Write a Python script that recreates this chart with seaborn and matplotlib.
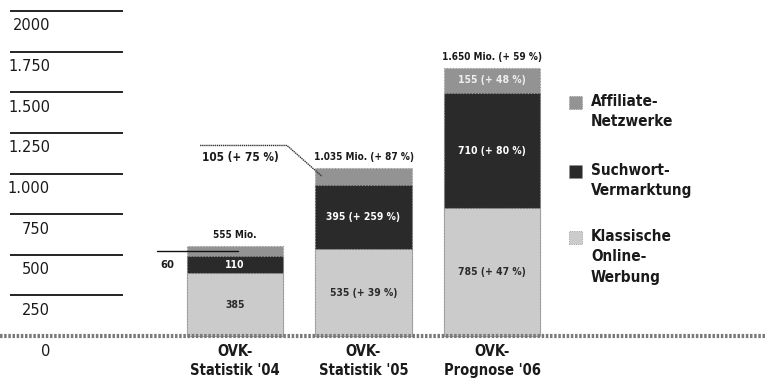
import matplotlib
matplotlib.use("Agg")
import matplotlib.pyplot as plt
from matplotlib.patches import Rectangle
import seaborn as sns
import pandas as pd

# --- data -------------------------------------------------------------
categories = ["OVK-\nStatistik '04", "OVK-\nStatistik '05", "OVK-\nPrognose '06"]
klassische = [385, 535, 785]
suchwort = [110, 395, 710]
affiliate = [60, 105, 155]
total_labels = ["555 Mio.", "1.035 Mio. (+ 87 %)", "1.650 Mio. (+ 59 %)"]
klassische_labels = ["385", "535 (+ 39 %)", "785 (+ 47 %)"]
suchwort_labels = ["110", "395 (+ 259 %)", "710 (+ 80 %)"]
affiliate_labels = ["60", "105 (+ 75 %)", "155 (+ 48 %)"]
y_ticks = [0, 250, 500, 750, 1000, 1250, 1500, 1750, 2000]
y_tick_labels = ["0", "250", "500", "750", "1.000", "1.250", "1.500", "1.750", "2000"]
series_names = ["Affiliate-\nNetzwerke", "Suchwort-\nVermarktung", "Klassische\nOnline-\nWerbung"]

# --- styling ----------------------------------------------------------
sns.set_style("white")
plt.rcParams["font.family"] = ["DejaVu Sans"]
C_AFF = "#939393"
C_SUCH = "#2a2a2a"
C_KLASS = "#cbcbcb"
TXT = "#1a1a1a"

W, H = 766, 383
fig = plt.figure(figsize=(W / 100, H / 100), dpi=100)
ax = fig.add_axes([0, 0, 1, 1])

# cumulative heights for the stacked columns
df = pd.DataFrame({
    "kategorie": categories,
    "klassisch": klassische,
    "such": suchwort,
    "aff": affiliate,
})
df["top_such"] = df["klassisch"] + df["such"]
df["total"] = df["top_such"] + df["aff"]

bar_kw = dict(width=0.75, saturation=1, errorbar=None, order=categories,
              edgecolor="#9a9a9a", linewidth=0.8, linestyle=":")
sns.barplot(data=df, x="kategorie", y="total", color=C_AFF, ax=ax, **bar_kw)
sns.barplot(data=df, x="kategorie", y="top_such", color=C_SUCH, ax=ax, **bar_kw)
sns.barplot(data=df, x="kategorie", y="klassisch", color=C_KLASS, ax=ax, **bar_kw)

# axis frame: one column spacing = 128.5 px, 250 units = 40.6 px
XC0, XS = 235.0, 128.5
Y0, YS = 336.0, 0.1625


def px_x(px):
    return (px - XC0) / XS


def px_y(py):
    return (Y0 - py) / YS


ax.set_xlim(px_x(0), px_x(W))
ax.set_ylim(px_y(H), px_y(0))
ax.set_xlabel("")
ax.set_ylabel("")
ax.set_xticks([])
ax.set_yticks([])
for s in ax.spines.values():
    s.set_visible(False)

# short value rules on the left with labels beneath them
ax.hlines(y_ticks[1:], px_x(10), px_x(123), color="#111111", lw=1.3)
ax.axhline(0, color="#7a7a7a", lw=3.0, ls=(0, (0.6, 0.4)))
for v, lab in zip(y_ticks, y_tick_labels):
    ax.annotate(lab, xy=(px_x(50), v), xytext=(0, -15), textcoords="offset pixels",
                ha="right", va="center", fontsize=10.5, color=TXT)

# category labels under the baseline
for i, cat in enumerate(categories):
    ax.annotate(cat, xy=(i, 0), xytext=(0, -25), textcoords="offset pixels",
                ha="center", va="center", fontsize=10.5, fontweight="bold",
                fontstretch="condensed", color=TXT, linespacing=1.4)

lab_kw = dict(ha="center", va="center", fontsize=7.5, fontweight="bold",
              fontstretch="condensed")
for i in range(len(categories)):
    k, s, a = klassische[i], suchwort[i], affiliate[i]
    tot = k + s + a
    ax.text(i, k / 2, klassische_labels[i], color="#2a2a2a", **lab_kw)
    ax.text(i, k + s / 2, suchwort_labels[i], color="white", **lab_kw)
    ax.annotate(total_labels[i], xy=(i, tot), xytext=(0, 11), textcoords="offset pixels",
                color=TXT, **{**lab_kw, "fontsize": 7.2})

# affiliate values: inside the tall column, outside with leader lines otherwise
k, s, a = klassische[2], suchwort[2], affiliate[2]
ax.text(2, k + s + a / 2, affiliate_labels[2], color="#eeeeee", **lab_kw)

k, s, a = klassische[0], suchwort[0], affiliate[0]
ax.plot([-0.61, 0.02], [k + s + a / 2] * 2, color="#111111", lw=1.0)
ax.text(-0.58, k + s / 2, affiliate_labels[0], color=TXT,
        **{**lab_kw, "ha": "left", "fontsize": 8})

k, s, a = klassische[1], suchwort[1], affiliate[1]
y_mid = k + s + a / 2
y_lead = y_mid + 190
ax.plot([1 - 1.272, 1 - 0.595, 1 - 0.323], [y_lead, y_lead, y_mid],
        color="#333333", lw=1.0, ls=(0, (1, 0.5)))
ax.text(1 - 0.96, y_lead - 72, affiliate_labels[1], color=TXT,
        **{**lab_kw, "fontsize": 8.5})

# legend, drawn in figure pixels
legend_rows = [(103, C_AFF), (172, C_SUCH), (238, C_KLASS)]
for (cy, col), name in zip(legend_rows, series_names):
    fig.patches.append(Rectangle((569 / W, 1 - (cy + 6) / H), 13 / W, 13 / H,
                                 transform=fig.transFigure, facecolor=col,
                                 edgecolor="#8a8a8a", lw=0.6, ls=":"))
    fig.text(591 / W, 1 - (cy - 9) / H, name, ha="left", va="top", fontsize=11,
             fontweight="bold", fontstretch="condensed", color=TXT, linespacing=1.45)

fig.savefig("out.png", dpi=100)
